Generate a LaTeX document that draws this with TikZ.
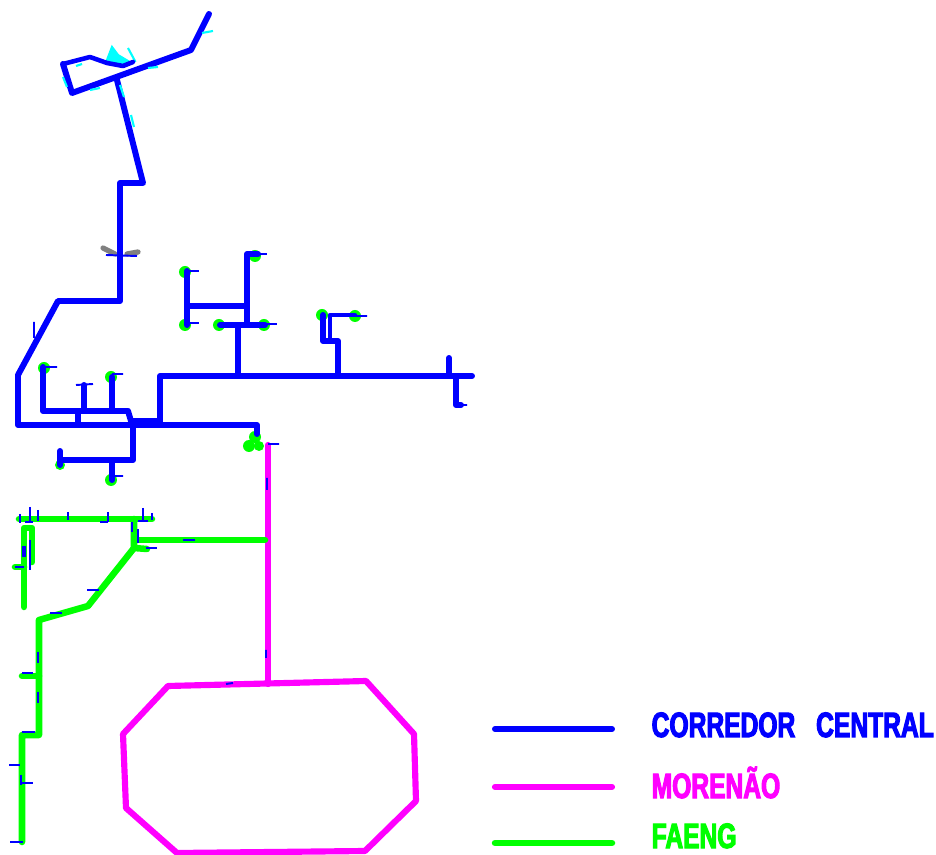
\documentclass[tikz,border=0pt]{standalone}
\usepackage{fontspec}
\newfontfamily\legendfont[FakeStretch=0.70,BoldFeatures={FakeStretch=0.70,FakeBold=3}]{Liberation Sans}
\definecolor{pipeblue}{RGB}{0,0,255}
\definecolor{pipemagenta}{RGB}{255,0,255}
\definecolor{pipegreen}{RGB}{0,255,0}
\definecolor{scrapcyan}{RGB}{0,255,255}
\tikzset{
  corredor/.style={draw=pipeblue, line width=1.7pt, line cap=round, line join=round},
  morenao/.style={draw=pipemagenta, line width=1.75pt, line cap=round, line join=round},
  faeng/.style={draw=pipegreen, line width=1.85pt, line cap=round, line join=round},
  tick/.style={draw=pipeblue, line width=0.55pt},
  scrap/.style={draw=scrapcyan, line width=0.6pt},
  stub/.style={draw=gray, line width=1.5pt, line cap=round},
  dot/.style={fill=pipegreen},
  legendtext/.style={font=\legendfont\bfseries\fontsize{10}{12}\selectfont, anchor=base west, inner sep=0pt}
}
\begin{document}
\begin{tikzpicture}[x=0.01cm, y=-0.01cm]
  \useasboundingbox (0,0) rectangle (936,855);

  % Stubs behind the trunk
  \draw[stub] (103,248) -- (115,254);
  \draw[stub] (127,254) -- (138,252);

  % Green ends
  \fill[dot] (185,272) circle (6);
  \fill[dot] (185,325) circle (6);
  \fill[dot] (255,256) circle (6);
  \fill[dot] (219,325) circle (6);
  \fill[dot] (264,325) circle (6);
  \fill[dot] (322,315) circle (6);
  \fill[dot] (355,316) circle (6);
  \fill[dot] (44,368) circle (6);
  \fill[dot] (111,377) circle (6);
  \fill[dot] (60,465) circle (5);
  \fill[dot] (111,480) circle (6);
  \fill[dot] (255,437) circle (6);
  \fill[dot] (249,446) circle (6);
  \fill[dot] (259,446) circle (5);

  % Cyan blob under the loop
  \draw[scrap, fill=scrapcyan] (112,47) -- (107,60) -- (120,64) -- (128,61) -- (118,55) -- cycle;
  \draw[scrap] (128,48) -- (135,61) -- (123,66);

  % Corredor central
  \draw[corredor] (209,14) -- (191,50) -- (72,93) -- (63,64);
  \draw[corredor, line width=1.3pt] (63,64) -- (90,57) -- (107,63) -- (123,66) -- (133,62);
  \draw[corredor] (117,80) -- (143,183) -- (120,183) -- (120,301) -- (58,301) -- (18,375) -- (18,425) -- (257,425) -- (257,434);
  \draw[corredor] (160,425) -- (160,376) -- (472,376);
  \draw[corredor] (238,376) -- (238,325);
  \draw[corredor] (220,325) -- (265,325);
  \draw[corredor] (247,325) -- (247,254) -- (258,254);
  \draw[corredor] (187,306) -- (247,306);
  \draw[corredor] (187,271) -- (187,325);
  \draw[corredor] (338,376) -- (338,341) -- (323,341) -- (323,315);
  \draw[corredor, line width=1.2pt] (330,340) -- (330,315) -- (355,315);
  \draw[corredor] (449,358) -- (449,376);
  \draw[corredor] (456,376) -- (456,405) -- (461,405);
  \draw[corredor] (43,367) -- (43,411) -- (128,411) -- (131,421) -- (160,421);
  \draw[corredor] (78,411) -- (78,425);
  \draw[corredor] (84,385) -- (84,411);
  \draw[corredor] (112,377) -- (112,411);
  \draw[corredor] (133,425) -- (133,460) -- (60,460);
  \draw[corredor] (60,451) -- (60,465);
  \draw[corredor] (112,460) -- (112,480);

  % Morenao
  \draw[morenao] (268,445) -- (268,684);
  \draw[morenao] (168,686) -- (366,681) -- (414,734) -- (416,801) -- (365,851) -- (177,853) -- (126,808) -- (123,734) -- cycle;

  % Faeng
  \draw[faeng] (265,540) -- (135,540);
  \draw[faeng] (19,519) -- (152,519);
  \draw[faeng] (134,519) -- (134,548) -- (88,606) -- (39,620) -- (39,735) -- (22,735) -- (22,842);
  \draw[faeng] (134,548) -- (147,549);
  \draw[faeng] (24,607) -- (24,528) -- (32,528) -- (32,562);
  \draw[faeng] (22,676) -- (39,676);
  \draw[faeng] (15,567) -- (24,567);

  % Blue ticks
  \draw[tick] (187,271) -- (199,271) (187,323) -- (199,323) (258,254) -- (267,254) (265,324) -- (277,324);
  \draw[tick] (355,316) -- (367,316) (461,405) -- (467,405) (43,367) -- (57,367) (76,385) -- (93,384);
  \draw[tick] (112,374) -- (123,374) (112,476) -- (123,476) (34,322) -- (34,338) (106,255) -- (137,256);
  \draw[tick] (268,444) -- (279,444) (267,478) -- (267,490) (266,650) -- (266,658) (226,684) -- (233,683);
  \draw[tick] (20,514) -- (20,523) (30,507) -- (30,522) (25,522) -- (33,522) (38,510) -- (38,521);
  \draw[tick] (68,512) -- (68,520) (108,512) -- (108,522) (100,522) -- (108,522) (143,508) -- (143,520);
  \draw[tick] (138,521) -- (148,521) (152,513) -- (152,520) (132,522) -- (132,532) (138,529) -- (138,543);
  \draw[tick] (183,540) -- (195,540) (146,548) -- (157,548) (87,590) -- (99,590) (50,613) -- (62,613);
  \draw[tick] (38,652) -- (38,663) (22,673) -- (33,673) (38,692) -- (38,703) (22,732) -- (35,732);
  \draw[tick] (9,765) -- (20,765) (21,775) -- (21,785) (21,783) -- (33,783) (10,842) -- (23,842);
  \draw[tick] (30,540) -- (30,570) (15,567) -- (24,567);
  \draw[tick, line width=1pt] (24,546) -- (24,557);

  % Cyan scraps
  \draw[scrap] (63,77) -- (67,87);
  \draw[scrap] (90,90) -- (100,88);
  \draw[scrap] (148,68) -- (158,67);
  \draw[scrap] (120,85) -- (124,97);
  \draw[scrap] (131,115) -- (134,127);
  \draw[scrap] (202,33) -- (213,31);
  \draw[scrap] (76,66) -- (82,64);

  % Legend
  \draw[corredor] (495,729) -- (612,729);
  \draw[morenao] (495,787) -- (612,787);
  \draw[faeng] (495,843) -- (612,843);
  \node[legendtext, text=pipeblue] (corredorlabel) at (651,737) {CORREDOR\hspace{0.4em} CENTRAL};
  \node[legendtext, text=pipemagenta] (morenaolabel) at (651,798) {MORENÃO};
  \node[legendtext, text=pipegreen] (faenglabel) at (651,848) {FAENG};
\end{tikzpicture}
\end{document}
